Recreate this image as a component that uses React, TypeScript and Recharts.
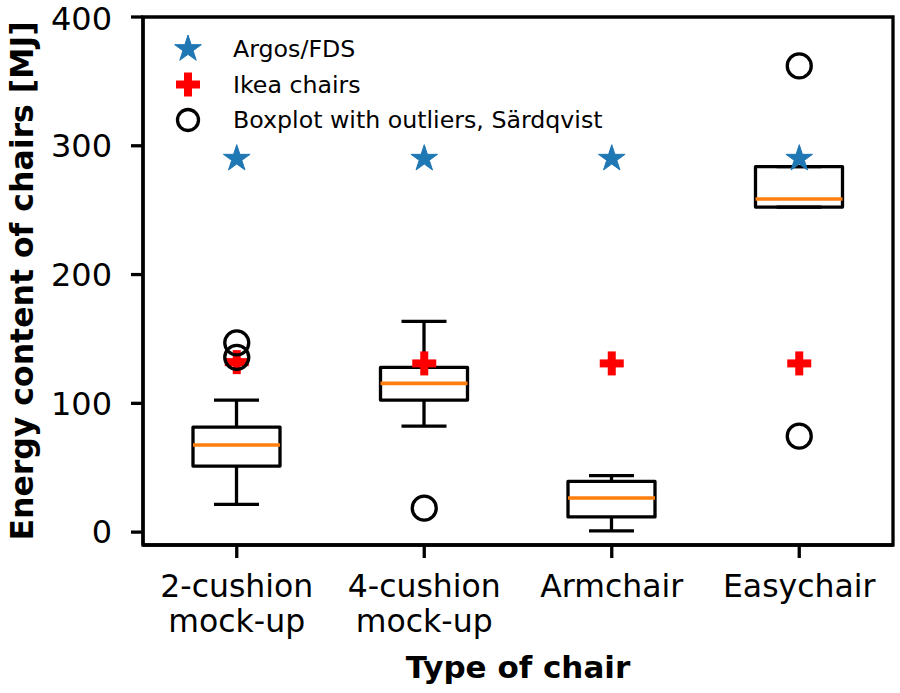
import { ComposedChart, Bar, Scatter, XAxis, YAxis, Label, ReferenceArea } from "recharts";

const CATEGORIES = ["2-cushion mock-up", "4-cushion mock-up", "Armchair", "Easychair"];

// boxplot stats (Särdqvist)
const WHISKER_LOW = [21.5, 82.3, 1.0, 252.4];
const Q1 = [51.3, 102.5, 11.8, 252.4];
const MEDIAN = [67.6, 115.5, 26.5, 258.7];
const Q3 = [81.6, 127.9, 39.4, 283.8];
const WHISKER_HIGH = [102.5, 163.6, 43.8, 283.8];

const ARGOS = [290, 290, 290, 290];
const IKEA = [132, 131, 131, 131];

const OUTLIER_CATS = ["2-cushion mock-up", "2-cushion mock-up", "4-cushion mock-up", "Easychair", "Easychair"];
const OUTLIER_VALUES = [147, 135.7, 18.6, 362, 74.5];

const Y_TICKS = [0, 100, 200, 300, 400];

const LEGEND = ["Argos/FDS", "Ikea chairs", "Boxplot with outliers, Särdqvist"];

const FONT = "'DejaVu Sans', sans-serif";
const BLUE = "#1f77b4";
const ORANGE = "#ff7f0e";
const LW = 3.3;

const data = CATEGORIES.map((name, i) => ({
  name,
  lo: WHISKER_LOW[i],
  q1: Q1[i],
  med: MEDIAN[i],
  q3: Q3[i],
  hi: WHISKER_HIGH[i],
  argos: ARGOS[i],
  ikea: IKEA[i],
}));

const outliers = OUTLIER_CATS.map((name, i) => ({ name, value: OUTLIER_VALUES[i] }));

function starPath(cx: number, cy: number, R: number) {
  const r = R * 0.381966;
  const pts: string[] = [];
  for (let k = 0; k < 10; k++) {
    const a = (Math.PI / 5) * k - Math.PI / 2;
    const rad = k % 2 === 0 ? R : r;
    pts.push(`${cx + rad * Math.cos(a)},${cy + rad * Math.sin(a)}`);
  }
  return `M${pts.join("L")}Z`;
}

function StarShape(props: any) {
  const { cx, cy } = props;
  if (cx == null || cy == null) return null;
  return <path d={starPath(cx, cy, 14)} fill={BLUE} stroke={BLUE} strokeWidth={1} strokeLinejoin="round" />;
}

function PlusShape(props: any) {
  const { cx, cy } = props;
  if (cx == null || cy == null) return null;
  const s = 12;
  const t = 4;
  return (
    <g fill="#ff0000">
      <rect x={cx - s} y={cy - t} width={2 * s} height={2 * t} />
      <rect x={cx - t} y={cy - s} width={2 * t} height={2 * s} />
    </g>
  );
}

function CircleShape(props: any) {
  const { cx, cy } = props;
  if (cx == null || cy == null) return null;
  return <circle cx={cx} cy={cy} r={12} fill="none" stroke="#000" strokeWidth={LW} />;
}

function BoxShape(props: any) {
  const { x, y, width, height, payload } = props;
  const { lo, hi, q1, med, q3 } = payload;
  const top = Math.min(y, y + height);
  const bottom = Math.max(y, y + height);
  const pos = (v: number) => (hi === lo ? bottom : bottom - ((v - lo) / (hi - lo)) * (bottom - top));
  const cx = x + width / 2;
  const cap = 22.5;
  return (
    <g>
      <line x1={cx} x2={cx} y1={pos(hi)} y2={pos(q3)} stroke="#000" strokeWidth={LW} />
      <line x1={cx} x2={cx} y1={pos(q1)} y2={pos(lo)} stroke="#000" strokeWidth={LW} />
      <line x1={cx - cap} x2={cx + cap} y1={pos(hi)} y2={pos(hi)} stroke="#000" strokeWidth={LW} />
      <line x1={cx - cap} x2={cx + cap} y1={pos(lo)} y2={pos(lo)} stroke="#000" strokeWidth={LW} />
      <rect x={x} y={pos(q3)} width={width} height={pos(q1) - pos(q3)} fill="none" stroke="#000" strokeWidth={LW} strokeLinejoin="round" />
      <line x1={x} x2={x + width} y1={pos(med)} y2={pos(med)} stroke={ORANGE} strokeWidth={3.6} />
    </g>
  );
}

function CategoryTick(props: any) {
  const { x, y, payload } = props;
  const lines = String(payload.value).split(" ");
  return (
    <text x={x} y={y} textAnchor="middle" fontSize={31.5} fill="#000" fontFamily={FONT}>
      {lines.map((l, i) => (
        <tspan key={i} x={x} dy={i === 0 ? 37 : 35}>
          {l}
        </tspan>
      ))}
    </text>
  );
}

function YLabel(props: any) {
  const vb = props.viewBox || { x: 0, y: 17, width: 143, height: 528 };
  const x = vb.x + 22;
  const y = vb.y + vb.height / 2;
  return (
    <text
      x={x}
      y={y}
      transform={`rotate(-90, ${x}, ${y})`}
      textAnchor="middle"
      dominantBaseline="central"
      fontSize={31.5}
      fontWeight="bold"
      fontFamily={FONT}
      fill="#000"
    >
      Energy content of chairs [MJ]
    </text>
  );
}

const axisLine = { stroke: "#000", strokeWidth: LW };

export default function App() {
  const legendShapes = [StarShape, PlusShape, CircleShape];
  return (
    <div style={{ position: "absolute", left: 0, top: 0, width: 900, height: 693, background: "#fff" }}>
      <ComposedChart width={900} height={693} data={data} margin={{ top: 17, right: 7, left: 0, bottom: 0 }}>
        <XAxis
          dataKey="name"
          type="category"
          allowDuplicatedCategory={false}
          height={148}
          axisLine={axisLine}
          tickLine={{ stroke: "#000", strokeWidth: LW }}
          tickSize={13}
          tick={<CategoryTick />}
          interval={0}
        >
          <Label
            value="Type of chair"
            position="insideBottom"
            offset={15}
            style={{ fontSize: 31, fontWeight: "bold", fontFamily: FONT, fill: "#000" }}
          />
        </XAxis>
        <YAxis
          type="number"
          domain={[-10, 400]}
          ticks={Y_TICKS}
          width={143}
          axisLine={axisLine}
          tickLine={{ stroke: "#000", strokeWidth: LW }}
          tickSize={12}
          tickMargin={19}
          tick={{ fontSize: 32, fill: "#000", fontFamily: FONT }}
          allowDataOverflow
        >
          <Label content={<YLabel />} />
        </YAxis>
        <Scatter dataKey="argos" shape={<StarShape />} isAnimationActive={false} />
        <Scatter dataKey="ikea" shape={<PlusShape />} isAnimationActive={false} />
        <Bar dataKey={(d: any) => [d.lo, d.hi]} barSize={87} shape={<BoxShape />} isAnimationActive={false} />
        <Scatter data={outliers} dataKey="value" shape={<CircleShape />} isAnimationActive={false} />
        <ReferenceArea y1={-10} y2={400} fill="none" fillOpacity={0} stroke="#000" strokeWidth={LW} ifOverflow="visible" />
      </ComposedChart>
      <svg width={900} height={693} style={{ position: "absolute", left: 0, top: 0, pointerEvents: "none" }}>
        {LEGEND.map((label, i) => {
          const Shape = legendShapes[i];
          const cy = 49 + i * 35.5;
          return (
            <g key={label}>
              {i === 2 ? (
                <circle cx={188} cy={cy} r={10.5} fill="none" stroke="#000" strokeWidth={LW} />
              ) : (
                <Shape cx={188} cy={cy} />
              )}
              <text x={233} y={cy} dominantBaseline="central" fontSize={23.7} fontFamily={FONT} fill="#000">
                {label}
              </text>
            </g>
          );
        })}
      </svg>
    </div>
  );
}
